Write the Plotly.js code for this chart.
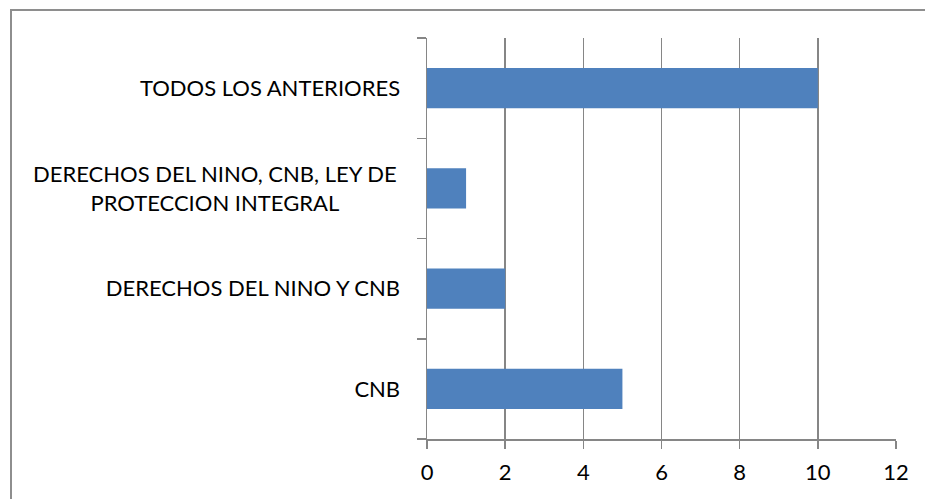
<!DOCTYPE html>
<html><head><meta charset="utf-8">
<script src="https://cdn.plot.ly/plotly-3.0.1.min.js"></script>
<style>
html,body{margin:0;padding:0;background:#fff;overflow:hidden;}
#wrap{position:relative;width:926px;height:499px;overflow:hidden;}
#chart{position:absolute;left:0;top:0;width:926px;height:499px;}
#ftop{position:absolute;left:10px;top:9px;width:915px;height:2px;background:#8e8e8e;z-index:5;}
#fleft{position:absolute;left:10px;top:9px;width:2px;height:490px;background:#8e8e8e;z-index:5;}
#cover{position:absolute;left:912px;top:12px;width:14px;height:487px;background:#fff;z-index:4;}
</style></head>
<body><div id="wrap"><div id="chart"></div><div id="cover"></div><div id="ftop"></div><div id="fleft"></div></div>
<script>
const categories = ["CNB", "DERECHOS DEL NINO Y CNB", "DERECHOS DEL NINO, CNB, LEY DE<br>PROTECCION INTEGRAL", "TODOS LOS ANTERIORES"];
const values = [5, 2, 1, 10];
const xTicks = [0, 2, 4, 6, 8, 10, 12];

const fontFam = "Lato, 'Open Sans', sans-serif";
const FS = 22;
const multiIdx = 2;
const tickText = categories.map((c, i) => i === multiIdx ? "" : c);

const trace = {
  type: "bar", orientation: "h",
  x: values, y: categories,
  marker: {color: "#4F81BD"},
  hoverinfo: "skip"
};
const layout = {
  width: 926, height: 499,
  margin: {l: 427, r: 30, t: 38, b: 60},
  paper_bgcolor: "#fff", plot_bgcolor: "rgba(0,0,0,0)",
  bargap: 0.6,
  showlegend: false,
  font: {family: fontFam, size: FS, color: "#000"},
  xaxis: {
    range: [0, 12], tickvals: xTicks, ticktext: xTicks.map(String),
    showgrid: true, gridcolor: "#868686", gridwidth: 1.5,
    zeroline: false, showline: true, linecolor: "#868686", linewidth: 1.5,
    ticks: "outside", ticklen: 8, tickcolor: "#868686", tickwidth: 1.5,
    ticklabelstandoff: 5,
    tickfont: {family: fontFam, size: FS, color: "#000"}, fixedrange: true
  },
  yaxis: {
    type: "category", categoryorder: "array", categoryarray: categories,
    tickvals: categories, ticktext: tickText,
    showgrid: false, zeroline: false, showline: true, linecolor: "#868686", linewidth: 1.5,
    ticks: "outside", ticklen: 9, tickcolor: "#868686", tickwidth: 1.5, tickson: "boundaries",
    ticklabelstandoff: 21,
    tickfont: {family: fontFam, size: FS, color: "#000"}, fixedrange: true
  },
  annotations: [{
    xref: "paper", yref: "y", x: 0, xshift: -28, y: categories[multiIdx],
    xanchor: "right", yanchor: "middle", align: "center",
    text: categories[multiIdx], showarrow: false,
    font: {family: fontFam, size: FS, color: "#000"}
  }]
};
Plotly.newPlot("chart", [trace], layout, {staticPlot: true, displayModeBar: false});
</script></body></html>
